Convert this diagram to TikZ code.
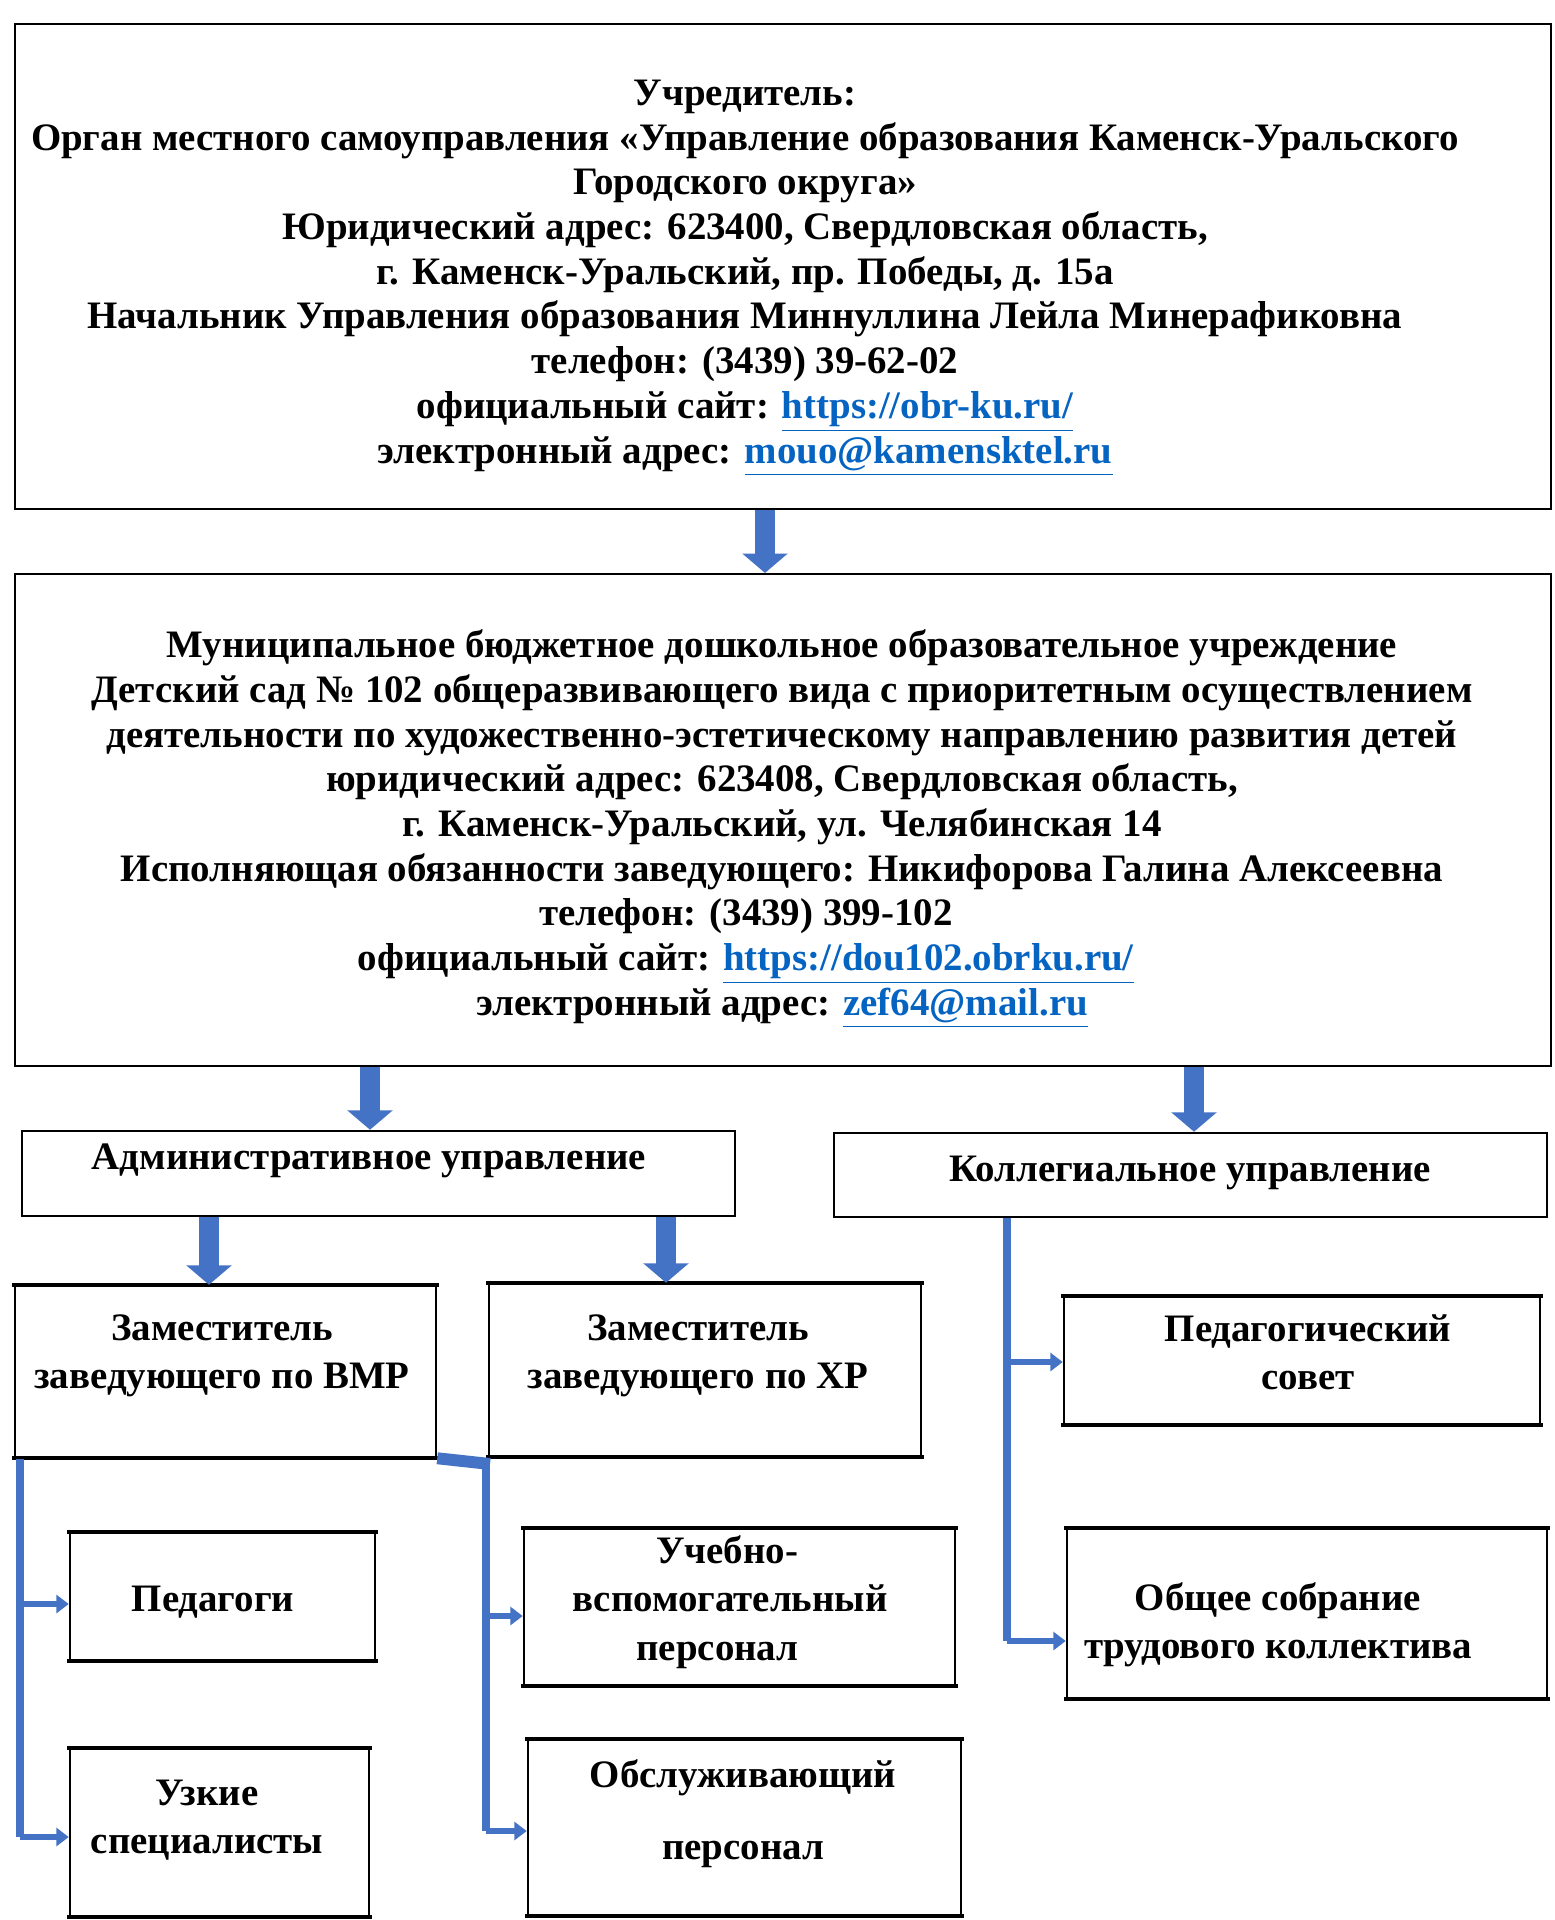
\documentclass[tikz,border=0pt]{standalone}
\usepackage{fontspec}
\setmainfont{Liberation Serif}
\usetikzlibrary{fit,arrows.meta}
\definecolor{arrblue}{HTML}{4472C4}
\definecolor{linkblue}{HTML}{0563C1}
\newcommand{\lnk}[1]{\textcolor{linkblue}{\underline{#1}}}
\tikzset{
  box/.style={draw, line width=0.75pt, inner sep=0pt},
  tbox/.style={draw, line width=0.9pt, inner sep=0pt},
  edge/.style={line width=1.6pt, line cap=rect},
  bigtxt/.style={font=\bfseries\fontsize{14}{16.1}\selectfont, align=center, inner sep=0pt},
  subtxt/.style={font=\bfseries\fontsize{14}{17.4}\selectfont, align=center, inner sep=0pt},
  bigarr/.style={arrblue, line width=7.2pt, -{Triangle[width=16pt,length=7pt]}},
  conn/.style={arrblue, line width=2.9pt},
  connarr/.style={arrblue, line width=2.2pt, -{Triangle[width=6.5pt,length=4.5pt]}}
}
\begin{document}
\begin{tikzpicture}[x=0.36pt,y=-0.36pt]
\useasboundingbox (0,0) rectangle (1555,1920);
\fill[white] (0,0) rectangle (1555,1920);

% main boxes
\node[box, fit={(15,24)(1551,509)}] (b1) {};
\node[box, fit={(15,574)(1551,1066)}] (b2) {};
\node[tbox, fit={(22,1131)(735,1216)}] (adm) {};
\node[tbox, fit={(834,1133)(1547,1217)}] (kol) {};
\node[tbox, fit={(15,1286)(436,1457)}] (zvmp) {};
\node[tbox, fit={(489,1284)(921,1456)}] (zxr) {};
\node[tbox, fit={(1064,1297)(1540,1424)}] (psov) {};
\node[tbox, fit={(1067,1529)(1547,1698)}] (obsh) {};
\node[tbox, fit={(70,1533)(375,1660)}] (ped) {};
\node[tbox, fit={(524,1529)(955,1685)}] (uch) {};
\node[tbox, fit={(70,1749)(369,1916)}] (uzk) {};
\node[tbox, fit={(528,1740)(961,1915)}] (obsl) {};

% thicker top / bottom edges of the lower boxes
\foreach \n in {zvmp,zxr,psov,obsh,ped,uch,uzk,obsl}{
  \draw[edge] (\n.north west) -- (\n.north east);
  \draw[edge] (\n.south west) -- (\n.south east);
}

% texts
\node[bigtxt] (t1) at (745,278) {Учредитель:\\
Орган местного самоуправления «Управление образования Каменск-Уральского\\
Городского округа»\\
Юридический адрес: 623400, Свердловская область,\\
г. Каменск-Уральский, пр. Победы, д. 15а\\
Начальник Управления образования Миннуллина Лейла Минерафиковна\\
телефон: (3439) 39-62-02\\
официальный сайт: \lnk{https://obr-ku.ru/}\\
электронный адрес: \lnk{mouo@kamensktel.ru}};

\node[bigtxt] (t2) at (782,829) {Муниципальное бюджетное дошкольное образовательное учреждение\\
Детский сад № 102 общеразвивающего вида с приоритетным осуществлением\\
деятельности по художественно-эстетическому направлению развития детей\\
юридический адрес: 623408, Свердловская область,\\
г. Каменск-Уральский, ул. Челябинская 14\\
Исполняющая обязанности заведующего: Никифорова Галина Алексеевна\\
\mbox{телефон: (3439) 399-102\hspace{26pt}}\\
\mbox{официальный сайт: \lnk{https://dou102.obrku.ru/}\hspace{26pt}}\\
электронный адрес: \lnk{zef64@mail.ru}};

\node[subtxt] (tadm) at (369,1161) {Административное управление};
\node[subtxt] (tkol) at (1190,1173) {Коллегиальное управление};
\node[subtxt] (tzvmp) at (222,1356) {Заместитель\\заведующего по ВМР};
\node[subtxt] (tzxr) at (698,1356) {Заместитель\\заведующего по ХР};
\node[subtxt] (tpsov) at (1308,1352) {Педагогический\\совет};
\node[subtxt] (tobsh) at (1278,1625) {Общее собрание\\трудового коллектива};
\node[subtxt] (tped) at (213,1602) {Педагоги};
\node[subtxt] (tuch) at (730,1602) {\mbox{Учебно-\hspace{2pt}}\\вспомогательный\\\mbox{персонал\hspace{9pt}}};
\node[subtxt] (tuzk) at (207,1820) {Узкие\\специалисты};
\node[subtxt, font=\bfseries\fontsize{14}{26}\selectfont] (tobsl) at (743,1814) {Обслуживающий\\персонал};

% big block arrows
\coordinate (xa) at (765,0);
\coordinate (xb) at (370,0);
\coordinate (xc) at (1194,0);
\coordinate (xd) at (209,0);
\coordinate (xe) at (666,0);
\draw[bigarr] (b1.south -| xa) -- (b2.north -| xa);
\draw[bigarr] (b2.south -| xb) -- (adm.north -| xb);
\draw[bigarr] (b2.south -| xc) -- (kol.north -| xc);
\draw[bigarr] (adm.south -| xd) -- (zvmp.north -| xd);
\draw[bigarr] (adm.south -| xe) -- (zxr.north -| xe);

% left connector
\coordinate (L1) at (20,1459);
\coordinate (L2) at (20,1604);
\coordinate (L3) at (20,1837);
\draw[conn] (L1) -- (L3);
\draw[connarr] (L2) -- (ped.west |- L2);
\draw[connarr] (L3) -- (uzk.west |- L3);

% middle connector
\coordinate (M0) at (490,1464);
\coordinate (M1) at (486,1464);
\coordinate (M2) at (486,1616);
\coordinate (M3) at (486,1831);
\draw[arrblue, line width=4.3pt] (zvmp.south east) -- (M0);
\draw[conn] (M1) -- (M3);
\draw[connarr] (M2) -- (uch.west |- M2);
\draw[connarr] (M3) -- (obsl.west |- M3);

% right connector
\coordinate (R1) at (1007,1218);
\coordinate (R2) at (1007,1362);
\coordinate (R3) at (1007,1641);
\draw[conn] (R1) -- (R3);
\draw[connarr] (R2) -- (psov.west |- R2);
\draw[connarr] (R3) -- (obsh.west |- R3);
\end{tikzpicture}
\end{document}
